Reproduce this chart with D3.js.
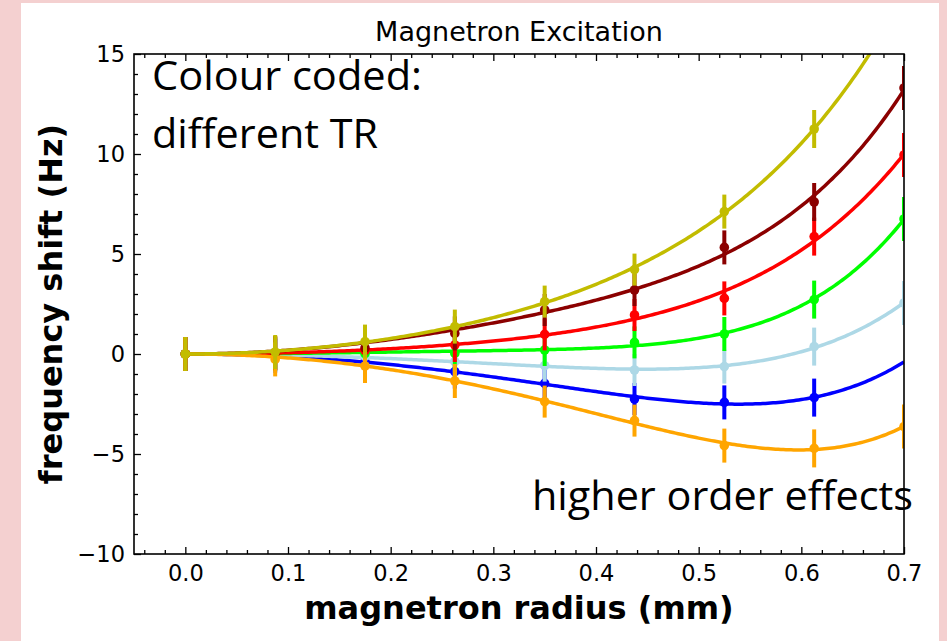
<!DOCTYPE html>
<html>
<head>
<meta charset="utf-8">
<script src="https://cdn.jsdelivr.net/npm/d3@7"></script>
<style>
  html, body { margin: 0; padding: 0; background: #f4d0d0; }
  svg { display: block; }
</style>
</head>
<body>
<svg id="chart" width="947" height="641"></svg>
<script>
// Magnetron radius (mm) at which the frequency shift was measured
const radii = [0, 0.0875, 0.175, 0.2625, 0.35, 0.4375, 0.525, 0.6125, 0.7];

// Frequency shift (Hz) for each trap ratio (TR), one array per colour
const shiftBlue      = [0, -0.08, -0.38, -0.88, -1.47, -2.25, -2.42, -2.18, null];
const shiftLightBlue = [0, -0.03, -0.12, -0.38, -0.58, -0.80, -0.63, 0.37, 2.55];
const shiftLime      = [0, 0.00, 0.02, 0.03, 0.20, 0.58, 1.00, 2.72, 6.75];
const shiftRed       = [0, 0.03, 0.17, 0.45, 0.98, 1.95, 2.78, 5.87, 9.95];
const shiftDarkRed   = [0, 0.05, 0.30, 1.03, 2.20, 3.20, 5.33, 7.60, 13.3];
const shiftOrange    = [0, -0.27, -0.60, -1.35, -2.38, -3.33, -4.58, -4.72, -3.63];
const shiftOlive     = [0, 0.10, 0.62, 1.37, 2.62, 4.22, 7.12, 11.25, null];

// Uncertainty (Hz) at each radius
const shiftErr = [0.85, 0.85, 0.85, 0.85, 0.8, 0.8, 0.85, 0.95, 1.1];

const seriesColors = ["#0000ff", "#add8e6", "#00ff00", "#ff0000", "#8b0000", "#ffa500", "#c2bc00"];
const seriesValues = [shiftBlue, shiftLightBlue, shiftLime, shiftRed, shiftDarkRed, shiftOrange, shiftOlive];

const xTicks = [0.0, 0.1, 0.2, 0.3, 0.4, 0.5, 0.6, 0.7];
const yTicks = [-10, -5, 0, 5, 10, 15];

const titleText = "Magnetron Excitation";
const xLabel = "magnetron radius (mm)";
const yLabel = "frequency shift (Hz)";
const noteTop = ["Colour coded:", "different TR"];
const noteBottom = "higher order effects";

const svg = d3.select("#chart");
const W = 947, H = 641;
const plot = { left: 134, right: 904, top: 54, bottom: 554 };

// white slide panel
svg.append("rect").attr("x", 21).attr("y", 3).attr("width", 918).attr("height", H - 3).attr("fill", "#ffffff");

const x = d3.scaleLinear().domain([-0.05, 0.7]).range([plot.left, plot.right]);
const y = d3.scaleLinear().domain([-10, 15]).range([plot.bottom, plot.top]);

const tickFont = "'DejaVu Sans', sans-serif";

// minor ticks
const xMinor = d3.range(-0.04, 0.7001, 0.02).filter(v => Math.abs(Math.round(v * 10) / 10 - v) > 1e-6);
const yMinor = d3.range(-9, 15, 1).filter(v => v % 5 !== 0);

function styleAxis(g) {
  g.select(".domain").remove();
  g.selectAll("line").attr("stroke", "#000").attr("stroke-width", 1.3);
  g.selectAll("text").attr("font-family", tickFont).attr("font-size", 22.5).attr("fill", "#000");
}

svg.append("g").attr("transform", `translate(0,${plot.bottom})`)
  .call(d3.axisBottom(x).tickValues(xTicks).tickFormat(d3.format(".1f")).tickSizeInner(-7).tickSizeOuter(0).tickPadding(11))
  .call(styleAxis);
svg.append("g").attr("transform", `translate(0,${plot.bottom})`)
  .call(d3.axisBottom(x).tickValues(xMinor).tickFormat("").tickSizeInner(-4).tickSizeOuter(0))
  .call(styleAxis);
svg.append("g").attr("transform", `translate(0,${plot.top})`)
  .call(d3.axisTop(x).tickValues(xTicks).tickFormat("").tickSizeInner(-7).tickSizeOuter(0))
  .call(styleAxis);
svg.append("g").attr("transform", `translate(0,${plot.top})`)
  .call(d3.axisTop(x).tickValues(xMinor).tickFormat("").tickSizeInner(-4).tickSizeOuter(0))
  .call(styleAxis);
svg.append("g").attr("transform", `translate(${plot.left},0)`)
  .call(d3.axisLeft(y).tickValues(yTicks).tickFormat(d3.format("d")).tickSizeInner(-7).tickSizeOuter(0).tickPadding(9))
  .call(styleAxis);
svg.append("g").attr("transform", `translate(${plot.left},0)`)
  .call(d3.axisLeft(y).tickValues(yMinor).tickFormat("").tickSizeInner(-4).tickSizeOuter(0))
  .call(styleAxis);

// clip region for the data
svg.append("clipPath").attr("id", "plotClip")
  .append("rect").attr("x", plot.left).attr("y", plot.top)
  .attr("width", plot.right - plot.left).attr("height", plot.bottom - plot.top);

// least-squares fit of f(r) = a r^2 + b r^4 + c r^6
function fitEven(rs, vs) {
  const pts = rs.map((r, i) => [r, vs[i]]).filter(p => p[1] != null);
  const n = 3;
  const A = Array.from({ length: n }, () => new Array(n + 1).fill(0));
  pts.forEach(([r, v]) => {
    const b = [r ** 2, r ** 4, r ** 6];
    for (let i = 0; i < n; i++) {
      for (let j = 0; j < n; j++) A[i][j] += b[i] * b[j];
      A[i][n] += b[i] * v;
    }
  });
  for (let i = 0; i < n; i++) {
    let p = i;
    for (let k = i + 1; k < n; k++) if (Math.abs(A[k][i]) > Math.abs(A[p][i])) p = k;
    [A[i], A[p]] = [A[p], A[i]];
    for (let k = 0; k < n; k++) {
      if (k === i) continue;
      const f = A[k][i] / A[i][i];
      for (let j = i; j <= n; j++) A[k][j] -= f * A[i][j];
    }
  }
  const c = A.map((row, i) => row[n] / row[i]);
  return r => c[0] * r ** 2 + c[1] * r ** 4 + c[2] * r ** 6;
}

const data = svg.append("g").attr("clip-path", "url(#plotClip)");
const line = d3.line().x(d => x(d[0])).y(d => y(d[1]));
const samples = d3.range(0, 0.7001, 0.0025);

seriesValues.forEach((vals, si) => {
  const color = seriesColors[si];
  const f = fitEven(radii, vals);
  const g = data.append("g");
  g.append("path").datum(samples.map(r => [r, f(r)]))
    .attr("d", line).attr("fill", "none").attr("stroke", color).attr("stroke-width", 3.5);
  const pts = radii.map((r, i) => ({ r, v: vals[i], e: shiftErr[i] })).filter(d => d.v != null);
  g.selectAll("line.err").data(pts).join("line").attr("class", "err")
    .attr("x1", d => x(d.r)).attr("x2", d => x(d.r))
    .attr("y1", d => y(d.v - d.e)).attr("y2", d => y(d.v + d.e))
    .attr("stroke", color).attr("stroke-width", 4);
  g.selectAll("circle").data(pts).join("circle")
    .attr("cx", d => x(d.r)).attr("cy", d => y(d.v)).attr("r", 4.8).attr("fill", color);
});

// frame
svg.append("rect").attr("x", plot.left).attr("y", plot.top)
  .attr("width", plot.right - plot.left).attr("height", plot.bottom - plot.top)
  .attr("fill", "none").attr("stroke", "#000").attr("stroke-width", 1.6);

// title and axis labels
svg.append("text").attr("x", (plot.left + plot.right) / 2).attr("y", 41)
  .attr("text-anchor", "middle").attr("font-family", tickFont).attr("font-size", 27)
  .text(titleText);
svg.append("text").attr("x", (plot.left + plot.right) / 2).attr("y", 619)
  .attr("text-anchor", "middle").attr("font-family", tickFont).attr("font-weight", "bold").attr("font-size", 32)
  .text(xLabel);
svg.append("text").attr("transform", `translate(62,${(plot.top + plot.bottom) / 2}) rotate(-90)`)
  .attr("text-anchor", "middle").attr("font-family", tickFont).attr("font-weight", "bold").attr("font-size", 32)
  .text(yLabel);

// annotations
const noteFont = "'Open Sans', sans-serif";
svg.append("text").attr("x", 152).attr("y", 90).attr("font-family", noteFont).attr("font-size", 40)
  .attr("textLength", 270).attr("lengthAdjust", "spacingAndGlyphs").text(noteTop[0]);
svg.append("text").attr("x", 152).attr("y", 148).attr("font-family", noteFont).attr("font-size", 40)
  .attr("textLength", 226).attr("lengthAdjust", "spacingAndGlyphs").text(noteTop[1]);
svg.append("text").attr("x", 532).attr("y", 510).attr("font-family", noteFont).attr("font-size", 40)
  .attr("textLength", 381).attr("lengthAdjust", "spacingAndGlyphs").text(noteBottom);
</script>
</body>
</html>
